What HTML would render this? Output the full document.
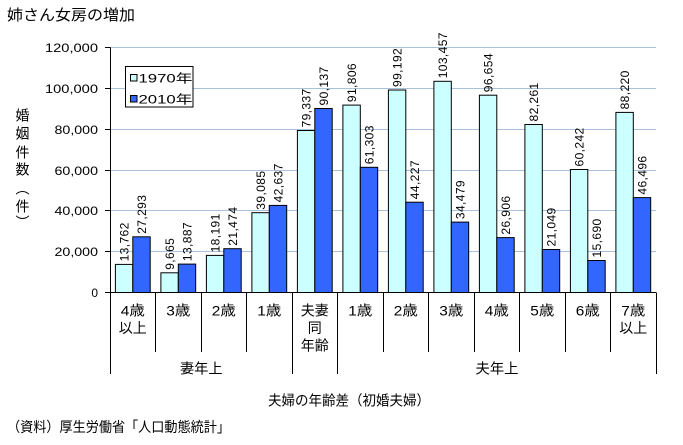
<!DOCTYPE html>
<html><head><meta charset="utf-8"><style>
html,body{margin:0;padding:0;background:#fff;}
svg{display:block;}
text{font-family:"Liberation Sans","Noto Sans CJK JP",sans-serif;fill:#000;}
</style></head><body>
<svg width="683" height="445" viewBox="0 0 683 445" xmlns="http://www.w3.org/2000/svg">
<rect width="683" height="445" fill="#fff"/>
<!-- title -->
<text x="7" y="20" font-size="15" textLength="128" lengthAdjust="spacingAndGlyphs">姉さん女房の増加</text>
<!-- gridlines -->
<g stroke="#A8C2DE" stroke-width="1">
<line x1="110" y1="47.5" x2="656" y2="47.5"/>
<line x1="110" y1="88.5" x2="656" y2="88.5"/>
<line x1="110" y1="129.5" x2="656" y2="129.5"/>
<line x1="110" y1="170.5" x2="656" y2="170.5"/>
<line x1="110" y1="210.5" x2="656" y2="210.5"/>
<line x1="110" y1="251.5" x2="656" y2="251.5"/>
</g>
<!-- y axis -->
<g stroke="#000" stroke-width="1">
<line x1="110.5" y1="47.5" x2="110.5" y2="292.5"/>
<line x1="105" y1="47.5" x2="110.5" y2="47.5"/>
<line x1="105" y1="88.5" x2="110.5" y2="88.5"/>
<line x1="105" y1="129.5" x2="110.5" y2="129.5"/>
<line x1="105" y1="170.5" x2="110.5" y2="170.5"/>
<line x1="105" y1="210.5" x2="110.5" y2="210.5"/>
<line x1="105" y1="251.5" x2="110.5" y2="251.5"/>
<line x1="105" y1="292.5" x2="656" y2="292.5"/>
</g>
<g font-size="12" text-anchor="end">
<text x="98" y="52" textLength="53" lengthAdjust="spacingAndGlyphs">120,000</text>
<text x="98" y="93" textLength="53" lengthAdjust="spacingAndGlyphs">100,000</text>
<text x="98" y="134" textLength="43.5" lengthAdjust="spacingAndGlyphs">80,000</text>
<text x="98" y="175" textLength="43.5" lengthAdjust="spacingAndGlyphs">60,000</text>
<text x="98" y="215" textLength="43.5" lengthAdjust="spacingAndGlyphs">40,000</text>
<text x="98" y="256" textLength="43.5" lengthAdjust="spacingAndGlyphs">20,000</text>
<text x="98" y="297">0</text>
</g>
<!-- y title -->
<g font-size="14" text-anchor="middle">
<text x="22.5" y="120.3">婚</text>
<text x="22.5" y="138.3">姻</text>
<text x="22.5" y="157.3">件</text>
<text x="22.5" y="174.3">数</text>
<text x="22.5" y="193.3">︵</text>
<text x="22.5" y="211.3">件</text>
<text x="22.5" y="227.3">︶</text>
</g>
<!-- bars -->
<g stroke="#000" stroke-width="1">
<g fill="#CCFFFF">
<rect x="115.4" y="264.4" width="17.4" height="28.1"/>
<rect x="160.9" y="272.8" width="17.4" height="19.7"/>
<rect x="206.4" y="255.4" width="17.4" height="37.1"/>
<rect x="251.9" y="212.7" width="17.4" height="79.8"/>
<rect x="297.4" y="130.5" width="17.4" height="162"/>
<rect x="342.9" y="105.1" width="17.4" height="187.4"/>
<rect x="388.4" y="90.0" width="17.4" height="202.5"/>
<rect x="433.9" y="81.3" width="17.4" height="211.2"/>
<rect x="479.4" y="95.2" width="17.4" height="197.3"/>
<rect x="524.9" y="124.5" width="17.4" height="168"/>
<rect x="570.4" y="169.5" width="17.4" height="123"/>
<rect x="615.9" y="112.4" width="17.4" height="180.1"/>
</g>
<g fill="#3366FF">
<rect x="132.8" y="236.8" width="17.4" height="55.7"/>
<rect x="178.3" y="264.1" width="17.4" height="28.4"/>
<rect x="223.8" y="248.7" width="17.4" height="43.8"/>
<rect x="269.3" y="205.4" width="17.4" height="87.1"/>
<rect x="314.8" y="108.5" width="17.4" height="184"/>
<rect x="360.3" y="167.3" width="17.4" height="125.2"/>
<rect x="405.8" y="202.2" width="17.4" height="90.3"/>
<rect x="451.3" y="222.1" width="17.4" height="70.4"/>
<rect x="496.8" y="237.6" width="17.4" height="54.9"/>
<rect x="542.3" y="249.5" width="17.4" height="43"/>
<rect x="587.8" y="260.5" width="17.4" height="32"/>
<rect x="633.3" y="197.6" width="17.4" height="94.9"/>
</g>
</g>
<!-- data labels -->
<g font-size="12" letter-spacing="0.4">
<text transform="translate(128.4,261.4) rotate(-90)">13,762</text>
<text transform="translate(145.8,233.8) rotate(-90)">27,293</text>
<text transform="translate(173.9,269.8) rotate(-90)">9,665</text>
<text transform="translate(191.3,261.1) rotate(-90)">13,887</text>
<text transform="translate(219.4,252.4) rotate(-90)">18,191</text>
<text transform="translate(236.8,245.7) rotate(-90)">21,474</text>
<text transform="translate(264.9,209.7) rotate(-90)">39,085</text>
<text transform="translate(282.3,202.4) rotate(-90)">42,637</text>
<text transform="translate(310.4,127.5) rotate(-90)">79,337</text>
<text transform="translate(327.8,105.5) rotate(-90)">90,137</text>
<text transform="translate(355.9,102.1) rotate(-90)">91,806</text>
<text transform="translate(373.3,164.3) rotate(-90)">61,303</text>
<text transform="translate(401.4,87) rotate(-90)">99,192</text>
<text transform="translate(418.8,199.2) rotate(-90)">44,227</text>
<text transform="translate(446.9,78.3) rotate(-90)">103,457</text>
<text transform="translate(464.3,219.1) rotate(-90)">34,479</text>
<text transform="translate(492.4,92.2) rotate(-90)">96,654</text>
<text transform="translate(509.8,234.6) rotate(-90)">26,906</text>
<text transform="translate(537.9,121.5) rotate(-90)">82,261</text>
<text transform="translate(555.3,246.5) rotate(-90)">21,049</text>
<text transform="translate(583.4,166.5) rotate(-90)">60,242</text>
<text transform="translate(600.8,257.5) rotate(-90)">15,690</text>
<text transform="translate(628.9,109.4) rotate(-90)">88,220</text>
<text transform="translate(646.3,194.6) rotate(-90)">46,496</text>
</g>
<!-- legend -->
<rect x="125.5" y="66.5" width="67.5" height="40.5" fill="#fff" stroke="#000" stroke-width="1"/>
<rect x="130.5" y="74.5" width="6.5" height="6.5" fill="#CCFFFF" stroke="#000" stroke-width="1"/>
<rect x="130.5" y="95.5" width="6.5" height="6.5" fill="#3366FF" stroke="#000" stroke-width="1"/>
<text x="138.5" y="82.5" font-size="12" textLength="54" lengthAdjust="spacingAndGlyphs">1970年</text>
<text x="138.5" y="103.5" font-size="12" textLength="54" lengthAdjust="spacingAndGlyphs">2010年</text>
<!-- category dividers -->
<g stroke="#000" stroke-width="1">
<line x1="110.5" y1="292.5" x2="110.5" y2="374"/>
<line x1="155.5" y1="292.5" x2="155.5" y2="352"/>
<line x1="201.5" y1="292.5" x2="201.5" y2="352"/>
<line x1="246.5" y1="292.5" x2="246.5" y2="352"/>
<line x1="292.5" y1="292.5" x2="292.5" y2="374"/>
<line x1="337.5" y1="292.5" x2="337.5" y2="374"/>
<line x1="383.5" y1="292.5" x2="383.5" y2="352"/>
<line x1="428.5" y1="292.5" x2="428.5" y2="352"/>
<line x1="474.5" y1="292.5" x2="474.5" y2="352"/>
<line x1="519.5" y1="292.5" x2="519.5" y2="352"/>
<line x1="565.5" y1="292.5" x2="565.5" y2="352"/>
<line x1="610.5" y1="292.5" x2="610.5" y2="352"/>
<line x1="656.5" y1="292.5" x2="656.5" y2="374"/>
</g>
<!-- category labels -->
<g font-size="14" text-anchor="middle">
<text x="132.75" y="315.3" textLength="24" lengthAdjust="spacingAndGlyphs">4歳</text>
<text x="132.75" y="333" textLength="28" lengthAdjust="spacingAndGlyphs">以上</text>
<text x="178.25" y="315.3" textLength="24" lengthAdjust="spacingAndGlyphs">3歳</text>
<text x="223.75" y="315.3" textLength="24" lengthAdjust="spacingAndGlyphs">2歳</text>
<text x="269.25" y="315.3" textLength="24" lengthAdjust="spacingAndGlyphs">1歳</text>
<text x="314.75" y="315.3" textLength="28" lengthAdjust="spacingAndGlyphs">夫妻</text>
<text x="314.75" y="333">同</text>
<text x="314.75" y="350.7" textLength="28" lengthAdjust="spacingAndGlyphs">年齢</text>
<text x="360.25" y="315.3" textLength="24" lengthAdjust="spacingAndGlyphs">1歳</text>
<text x="405.75" y="315.3" textLength="24" lengthAdjust="spacingAndGlyphs">2歳</text>
<text x="451.25" y="315.3" textLength="24" lengthAdjust="spacingAndGlyphs">3歳</text>
<text x="496.75" y="315.3" textLength="24" lengthAdjust="spacingAndGlyphs">4歳</text>
<text x="542.25" y="315.3" textLength="24" lengthAdjust="spacingAndGlyphs">5歳</text>
<text x="587.75" y="315.3" textLength="24" lengthAdjust="spacingAndGlyphs">6歳</text>
<text x="633.25" y="315.3" textLength="24" lengthAdjust="spacingAndGlyphs">7歳</text>
<text x="633.25" y="333" textLength="28" lengthAdjust="spacingAndGlyphs">以上</text>
<text x="201.3" y="373.3" textLength="42.5" lengthAdjust="spacingAndGlyphs">妻年上</text>
<text x="497" y="373.3" textLength="43" lengthAdjust="spacingAndGlyphs">夫年上</text>
<text x="349" y="405.3" textLength="162" lengthAdjust="spacingAndGlyphs">夫婦の年齢差（初婚夫婦）</text>
</g>
<text x="7" y="432" font-size="14" textLength="223" lengthAdjust="spacingAndGlyphs">（資料）厚生労働省「人口動態統計」</text>
</svg>
</body></html>
